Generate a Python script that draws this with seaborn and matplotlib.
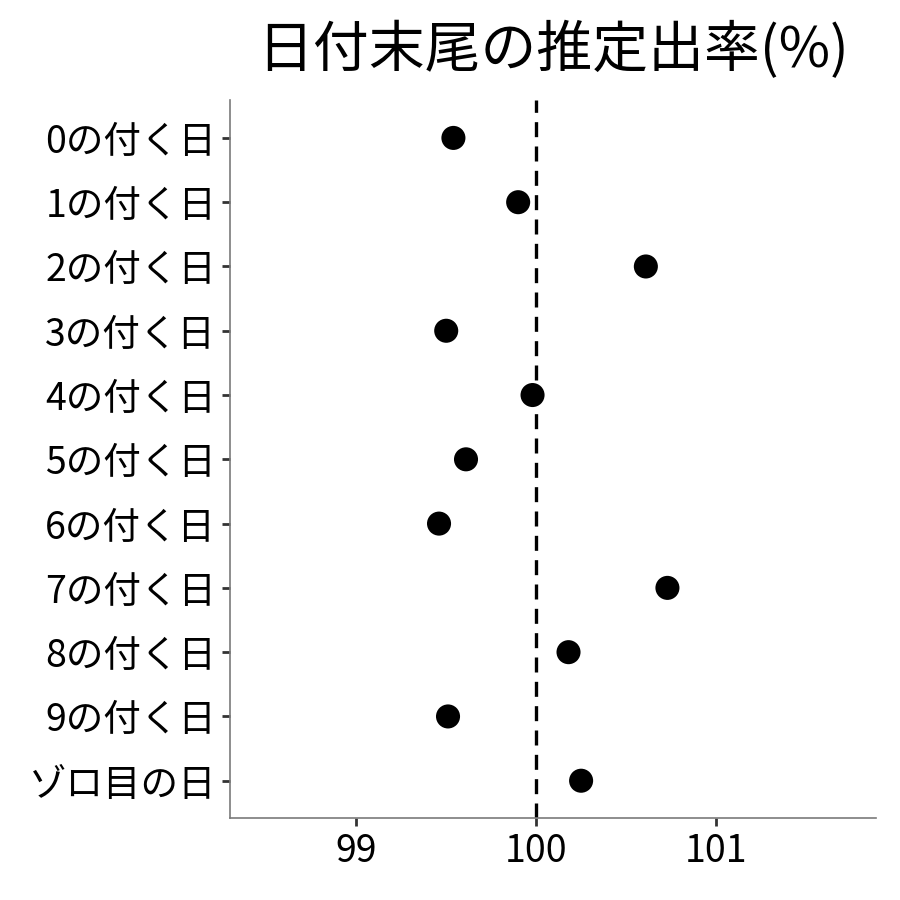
import matplotlib
matplotlib.use('Agg')
import matplotlib.pyplot as plt
import seaborn as sns
import pandas as pd

# data
labels = ['0の付く日', '1の付く日', '2の付く日', '3の付く日', '4の付く日',
          '5の付く日', '6の付く日', '7の付く日', '8の付く日', '9の付く日', 'ゾロ目の日']
rates = [99.54, 99.90, 100.61, 99.50, 99.98, 99.61, 99.46, 100.73, 100.18, 99.51, 100.25]
x_ticks = [99, 100, 101]
ref_line = 100

sns.set_theme(style='white')
plt.rcParams['font.family'] = ['Noto Sans CJK JP', 'DejaVu Sans']

df = pd.DataFrame({'label': labels, 'rate': rates})

fig = plt.figure(figsize=(9, 9), dpi=100)
ax = fig.add_axes([0.2556, 0.0911, 0.7178, 0.7978])

ax.axvline(ref_line, color='black', lw=2.4, linestyle=(0, (4.5, 2.8)), zorder=1)
sns.scatterplot(data=df, x='rate', y='label', ax=ax, color='black', s=300,
                edgecolor='none', zorder=3)

ax.set_xlim(98.298, 101.89)
ax.set_ylim(len(labels) - 0.42, -0.59)
ax.set_xticks(x_ticks)
ax.set_xticklabels([str(t) for t in x_ticks])
ax.set_xlabel('')
ax.set_ylabel('')
ax.set_title('日付末尾の推定出率(%)', fontsize=40.2, pad=24, color='black')

for side in ['top', 'right']:
    ax.spines[side].set_visible(False)
for side in ['left', 'bottom']:
    ax.spines[side].set_color('#7a7a7a')
    ax.spines[side].set_linewidth(1.2)

ax.tick_params(axis='both', length=6, width=2, color='#333333',
               labelsize=27, labelcolor='black', pad=4, left=True, bottom=True)

fig.savefig('out.png', dpi=100)
plt.close(fig)
